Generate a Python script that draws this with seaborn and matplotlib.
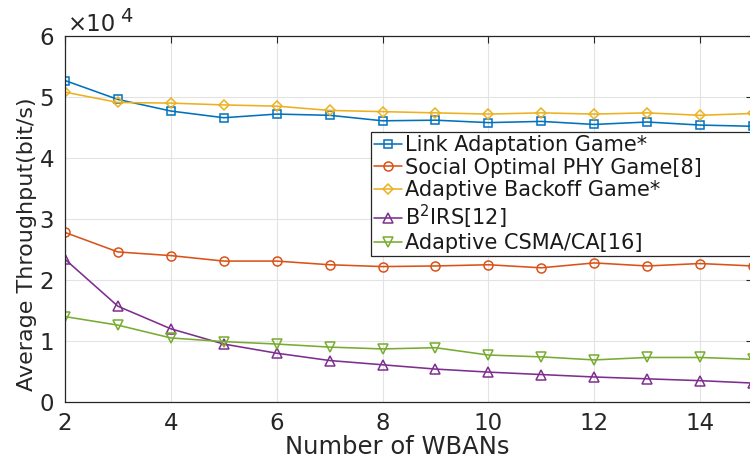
import numpy as np
import pandas as pd
import matplotlib
matplotlib.use("Agg")
import matplotlib.pyplot as plt
import seaborn as sns

# ---- data (values in units of 1e4 bit/s) ----
n_wbans = [2, 3, 4, 5, 6, 7, 8, 9, 10, 11, 12, 13, 14, 15]
link_adaptation = [5.27, 4.96, 4.77, 4.66, 4.72, 4.70, 4.61, 4.62, 4.58, 4.60, 4.55, 4.59, 4.54, 4.52]
social_optimal = [2.78, 2.46, 2.40, 2.31, 2.31, 2.25, 2.22, 2.23, 2.25, 2.20, 2.28, 2.23, 2.27, 2.23]
adaptive_backoff = [5.08, 4.91, 4.90, 4.87, 4.85, 4.78, 4.76, 4.74, 4.72, 4.74, 4.72, 4.74, 4.70, 4.73]
b2irs = [2.34, 1.57, 1.20, 0.95, 0.80, 0.68, 0.61, 0.54, 0.49, 0.45, 0.41, 0.38, 0.35, 0.31]
adaptive_csma = [1.40, 1.26, 1.05, 0.99, 0.95, 0.90, 0.87, 0.89, 0.77, 0.74, 0.69, 0.73, 0.73, 0.70]

series_names = ["Link Adaptation Game*", "Social Optimal PHY Game[8]",
                "Adaptive Backoff Game*", r"B$^2$IRS[12]", "Adaptive CSMA/CA[16]"]
series_values = [link_adaptation, social_optimal, adaptive_backoff, b2irs, adaptive_csma]
colors = ["#0072BD", "#D95319", "#EDB120", "#7E2F8E", "#77AC30"]
markers = ["s", "o", "D", "^", "v"]
marker_sizes = [5.5, 6.5, 5.0, 7.5, 7.5]

x_ticks = [2, 4, 6, 8, 10, 12, 14]
y_ticks = [0, 1, 2, 3, 4, 5, 6]
x_label = "Number of WBANs"
y_label = "Average Throughput(bit/s)"

sns.set_theme(style="white")
plt.rcParams["font.family"] = ["DejaVu Sans"]
plt.rcParams["mathtext.fontset"] = "dejavusans"

W, H = 750, 465
fig = plt.figure(figsize=(W / 100, H / 100), dpi=100)
ax_left, ax_right, ax_top, ax_bottom = 65, 753, 36, 402
ax = fig.add_axes([ax_left / W, 1 - ax_bottom / H, (ax_right - ax_left) / W, (ax_bottom - ax_top) / H])

for name, vals, c, m, ms in zip(series_names, series_values, colors, markers, marker_sizes):
    df = pd.DataFrame({"x": n_wbans, "y": np.array(vals) * 1e4})
    sns.lineplot(data=df, x="x", y="y", ax=ax, color=c, marker=m, markersize=ms,
                 markerfacecolor="none", markeredgecolor=c, markeredgewidth=1.1,
                 linewidth=1.15, label=name, clip_on=True)

ax.set_xlim(2, 15)
ax.set_ylim(0, 6e4)
ax.set_xticks(x_ticks)
ax.set_xticklabels([str(t) for t in x_ticks])
ax.set_yticks([t * 1e4 for t in y_ticks])
ax.set_yticklabels([str(t) for t in y_ticks])

ax.grid(True, color="#e3e3e3", linewidth=0.8)
ax.set_axisbelow(True)
for s in ax.spines.values():
    s.set_color("#262626")
    s.set_linewidth(0.9)
    s.set_visible(True)
ax.tick_params(direction="in", length=5, width=0.8, color="#262626",
               top=True, right=True, labelsize=16.5, labelcolor="#262626")
ax.tick_params(axis="x", pad=7)
ax.tick_params(axis="y", pad=8)

ax.set_xlabel(x_label, fontsize=17.5, color="#262626")
ax.set_ylabel(y_label, fontsize=16, color="#262626")
ax.xaxis.set_label_coords((397 - ax_left) / (ax_right - ax_left), -(435 - ax_bottom) / (ax_bottom - ax_top))
ax.yaxis.set_label_coords((37 - ax_left) / (ax_right - ax_left), (ax_bottom - 244) / (ax_bottom - ax_top))

# MATLAB-style exponent
fig.text(68 / W, 1 - 31 / H, "×10", fontsize=16.5, color="#262626", ha="left", va="baseline")
fig.text(120 / W, 1 - 22 / H, "4", fontsize=14, color="#262626", ha="left", va="baseline")

handles, labels = ax.get_legend_handles_labels()
leg = ax.legend(handles, labels, loc="upper left", mode="expand",
                bbox_to_anchor=(371 / W, 1 - 255 / H, 400 / W, 123 / H),
                bbox_transform=fig.transFigure, fontsize=15, frameon=True,
                fancybox=False, framealpha=1, edgecolor="#262626",
                handlelength=1.35, handletextpad=0.15, borderpad=0.15,
                labelspacing=0.12, borderaxespad=0)
leg.get_frame().set_linewidth(0.9)
for t in leg.get_texts():
    t.set_color("#1a1a1a")

fig.savefig("out.png", dpi=100)
